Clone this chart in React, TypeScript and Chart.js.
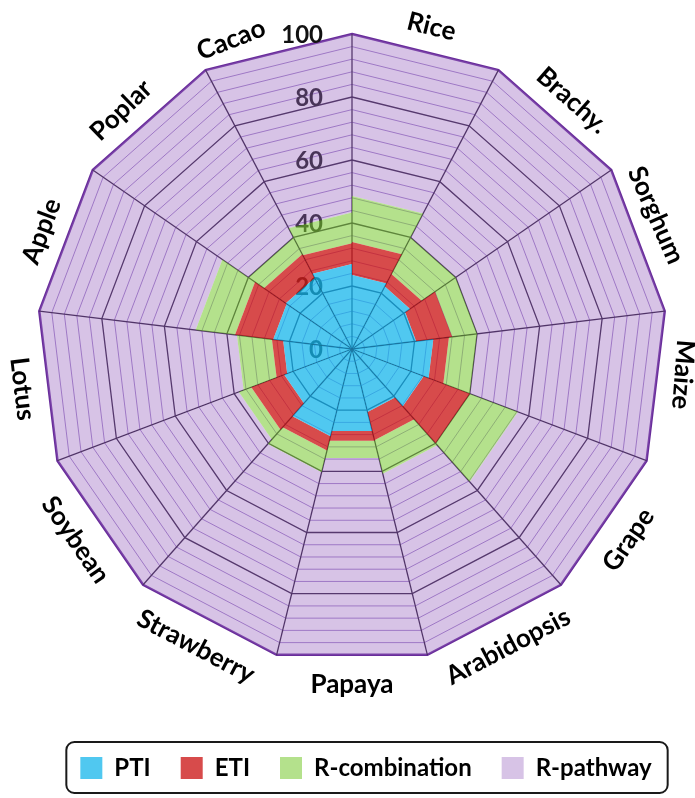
import React, { useEffect, useRef } from 'react';
import { Chart, registerables, PolarAreaController, ArcElement } from 'chart.js';

Chart.register(...registerables);

// ---------- data ----------
const categories = ['Rice', 'Brachy.', 'Sorghum', 'Maize', 'Grape', 'Arabidopsis', 'Papaya', 'Strawberry', 'Soybean', 'Lotus', 'Apple', 'Poplar', 'Cacao'];
const seriesNames = ['PTI', 'ETI', 'R-combination', 'R-pathway'];
const ptiValues = [23.5, 22.4, 20.5, 26.0, 24.3, 20.6, 26.8, 28.5, 23.0, 22.0, 25.2, 25.5, 27.0];
const etiValues = [10.5, 4.5, 11.5, 5.0, 15.7, 9.2, 3.2, 4.7, 11.2, 3.6, 12.2, 8.5, 6.6];
const rCombinationValues = [14.6, 13.1, 8.0, 9.0, 16.3, 11.0, 5.6, 7.1, 4.2, 11.2, 12.6, 6.0, 9.7];
const rPathwayValues = [51.4, 60.0, 60.0, 60.0, 43.7, 59.2, 64.4, 59.7, 61.6, 63.2, 50.0, 60.0, 56.7];
const axisMin = 0;
const axisMax = 100;
const gridStep = 4;
const labelStep = 20;

// ---------- styles ----------
const seriesColors = [
  'rgba(22,182,235,0.75)',
  'rgba(205,30,30,0.8)',
  'rgba(130,205,63,0.6)',
  'rgba(155,105,192,0.4)',
];
const FONT = 'Lato';
const LEGEND_FONT = 24;
const LEGEND_BOX = 22;
const LEGEND_PAD = 30;
const labelNudgeDeg: Record<string, number> = { Cacao: -7.5, Sorghum: -3, Maize: -2.5, Poplar: -2.5 };

// Sector element: straight-edged (polygonal) annular sector
class ChordSectorElement extends (ArcElement as any) {
  static id = 'chordSector';
  draw(ctx: CanvasRenderingContext2D) {
    const { x, y, startAngle, endAngle, innerRadius, outerRadius } = (this as any).getProps(
      ['x', 'y', 'startAngle', 'endAngle', 'innerRadius', 'outerRadius']
    );
    const o = (this as any).options;
    if (!(outerRadius > innerRadius)) return;
    const c0 = Math.cos(startAngle), s0 = Math.sin(startAngle);
    const c1 = Math.cos(endAngle), s1 = Math.sin(endAngle);
    ctx.save();
    ctx.beginPath();
    ctx.moveTo(x + c0 * innerRadius, y + s0 * innerRadius);
    ctx.lineTo(x + c0 * outerRadius, y + s0 * outerRadius);
    ctx.lineTo(x + c1 * outerRadius, y + s1 * outerRadius);
    ctx.lineTo(x + c1 * innerRadius, y + s1 * innerRadius);
    ctx.closePath();
    ctx.fillStyle = o.backgroundColor;
    ctx.fill();
    ctx.restore();
  }
}

// Polar area controller that stacks datasets radially
class StackedPolarController extends (PolarAreaController as any) {
  static id = 'stackedPolar';
  static defaults = { ...(PolarAreaController as any).defaults, dataElementType: 'chordSector' };
  static overrides = (PolarAreaController as any).overrides;
  updateElement(element: any, index: number, properties: any, mode: any) {
    const meta = (this as any)._cachedMeta;
    const scale = meta.rScale || (this as any).chart.scales.r;
    if (properties && 'outerRadius' in properties && scale) {
      const datasets = (this as any).chart.data.datasets;
      const di = (this as any).index;
      let base = 0;
      for (let d = 0; d < di; d++) base += Number(datasets[d].data[index]) || 0;
      const top = base + (Number(datasets[di].data[index]) || 0);
      properties.innerRadius = scale.getDistanceFromCenterForValue(base);
      properties.outerRadius = scale.getDistanceFromCenterForValue(top);
    }
    super.updateElement(element, index, properties, mode);
  }
}

Chart.register(ChordSectorElement as any, StackedPolarController as any);

const radialTextPlugin = {
  id: 'radialText',
  afterLayout(chart: any) {
    const lg = chart.legend;
    if (!lg) return;
    const dy = 768 - (lg.top + LEGEND_PAD + Math.max(LEGEND_BOX, LEGEND_FONT) / 2);
    const dx = 366 - (lg.left + lg.right) / 2;
    lg.top += dy; lg.bottom += dy;
    lg.left += dx; lg.right += dx;
  },
  beforeDatasetsDraw(chart: any) {
    const scale = chart.scales.r;
    if (!scale) return;
    const ctx = chart.ctx;
    ctx.save();
    ctx.font = `bold 24px ${FONT}`;
    ctx.fillStyle = '#111111';
    ctx.textAlign = 'right';
    ctx.textBaseline = 'middle';
    scale.ticks.forEach((t: any) => {
      if (t.value % labelStep !== 0) return;
      const d = scale.getDistanceFromCenterForValue(t.value);
      ctx.fillText(String(t.value), scale.xCenter - 29, scale.yCenter - d + 1);
    });
    ctx.restore();
  },
  afterDatasetsDraw(chart: any) {
    const scale = chart.scales.r;
    if (!scale) return;
    const ctx = chart.ctx;
    const n = categories.length;
    const sectorDeg = 360 / n;
    ctx.save();
    ctx.font = `bold 26px ${FONT}`;
    ctx.fillStyle = '#000000';
    ctx.textAlign = 'center';
    ctx.textBaseline = 'middle';
    (chart.data.labels as string[]).forEach((label, i) => {
      const nudge = labelNudgeDeg[label] || 0;
      const idx = i + 0.5 + nudge / sectorDeg;
      const theta = idx * sectorDeg;
      const bottomHalf = Math.cos((theta * Math.PI) / 180) < -0.2;
      const p = scale.getPointPosition(idx, scale.drawingArea + (bottomHalf ? 21 : 17));
      let rot = theta;
      if (theta > 100 && theta < 265) rot = theta - 180;
      else if (theta >= 265) rot = theta - 360;
      ctx.save();
      ctx.translate(p.x, p.y);
      ctx.rotate((rot * Math.PI) / 180);
      ctx.fillText(label, 0, 0);
      ctx.restore();
    });
    ctx.restore();
  },
  afterDraw(chart: any) {
    const lg = chart.legend;
    if (!lg || !lg.lineWidths) return;
    const lw = lg.lineWidths[0];
    const x0 = (lg.left + LEGEND_PAD + lg.right - lw) / 2;
    const x1 = x0 + lw - LEGEND_PAD;
    const cy = lg.top + LEGEND_PAD + Math.max(LEGEND_BOX, LEGEND_FONT) / 2;
    const ctx = chart.ctx;
    ctx.save();
    ctx.strokeStyle = '#1a1a1a';
    ctx.lineWidth = 2;
    ctx.beginPath();
    (ctx as any).roundRect(x0 - 14, cy - 26, x1 - x0 + 30, 51, 8);
    ctx.stroke();
    ctx.restore();
  },
};

export default function App() {
  const canvasRef = useRef<HTMLCanvasElement | null>(null);

  useEffect(() => {
    if (!canvasRef.current) return;
    Chart.defaults.font.family = FONT;
    const seriesValues = [ptiValues, etiValues, rCombinationValues, rPathwayValues];
    const chart = new Chart(canvasRef.current, {
      type: 'stackedPolar' as any,
      data: {
        labels: categories,
        datasets: seriesNames.map((name, i) => ({
          label: name,
          data: seriesValues[i],
          backgroundColor: seriesColors[i],
          borderWidth: 0,
        })),
      },
      options: {
        animation: false,
        responsive: true,
        maintainAspectRatio: false,
        events: [],
        layout: { padding: { top: 34, left: 9, right: 0, bottom: 70 } },
        scales: {
          r: {
            type: 'radialLinear',
            min: axisMin,
            max: axisMax,
            startAngle: 0,
            beginAtZero: true,
            ticks: { display: false, stepSize: gridStep },
            pointLabels: { display: false },
            angleLines: { display: true, color: 'rgb(40,25,55)', lineWidth: 1.3 },
            grid: {
              circular: false,
              color: (c: any) => {
                const v = c.tick ? c.tick.value : 0;
                if (v === axisMax) return 'rgb(105,45,155)';
                if (v % labelStep === 0) return 'rgb(40,25,55)';
                return 'rgb(160,130,200)';
              },
              lineWidth: (c: any) => {
                const v = c.tick ? c.tick.value : 0;
                if (v === axisMax) return 2.5;
                if (v % labelStep === 0) return 1.3;
                return 1;
              },
            },
          },
        } as any,
        plugins: {
          tooltip: { enabled: false },
          legend: {
            display: true,
            position: 'bottom',
            onClick: () => {},
            labels: {
              font: { family: FONT, size: LEGEND_FONT, weight: 'bold' },
              color: '#000000',
              boxWidth: LEGEND_BOX,
              boxHeight: LEGEND_BOX,
              padding: LEGEND_PAD,
              generateLabels: (ch: any) =>
                ch.data.datasets.map((ds: any, i: number) => ({
                  text: ds.label,
                  fillStyle: ds.backgroundColor,
                  strokeStyle: 'rgba(0,0,0,0)',
                  lineWidth: 0,
                  hidden: false,
                  datasetIndex: i,
                  fontColor: '#000000',
                })),
            },
          },
        },
      } as any,
      plugins: [radialTextPlugin as any],
    });
    return () => chart.destroy();
  }, []);

  return (
    <div style={{ position: 'absolute', left: 0, top: 0, width: 695, height: 798 }}>
      <canvas ref={canvasRef} />
    </div>
  );
}
